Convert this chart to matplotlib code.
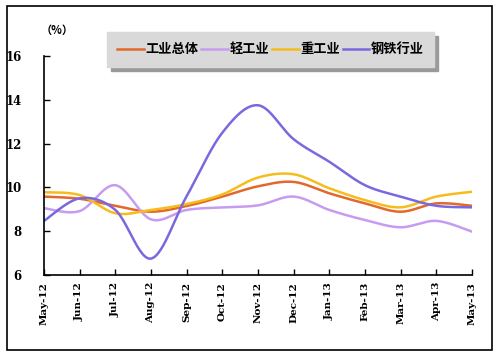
import numpy as np
from matplotlib import pyplot as plt
from matplotlib.patches import Rectangle

months = ['May-12', 'Jun-12', 'Jul-12', 'Aug-12', 'Sep-12', 'Oct-12', 'Nov-12',
          'Dec-12', 'Jan-13', 'Feb-13', 'Mar-13', 'Apr-13', 'May-13']

industry_total = [9.58, 9.48, 9.16, 8.89, 9.15, 9.58, 10.05, 10.25, 9.73, 9.27, 8.89, 9.27, 9.16]
light_industry = [9.05, 8.92, 10.1, 8.54, 8.97, 9.09, 9.18, 9.58, 8.97, 8.51, 8.18, 8.47, 7.98]
heavy_industry = [9.78, 9.65, 8.82, 8.97, 9.24, 9.68, 10.45, 10.6, 9.96, 9.42, 9.09, 9.58, 9.8]
steel_industry = [8.47, 9.5, 8.97, 6.75, 9.6, 12.5, 13.75, 12.2, 11.17, 10.1, 9.58, 9.16, 9.09]

series = [
    ('工业总体', industry_total, '#E2692C'),
    ('轻工业', light_industry, '#C79CF0'),
    ('重工业', heavy_industry, '#F6BC1E'),
    ('钢铁行业', steel_industry, '#7A69DE'),
]


def smooth(y, n=30):
    """Excel-like smoothed line through the points (Catmull-Rom bezier)."""
    y = np.asarray(y, dtype=float)
    x = np.arange(len(y), dtype=float)
    px = np.concatenate([[x[0]], x, [x[-1]]])
    py = np.concatenate([[y[0]], y, [y[-1]]])
    xs, ys = [], []
    t = np.linspace(0, 1, n)
    for i in range(1, len(px) - 2):
        x0, x1, x2, x3 = px[i - 1:i + 3]
        y0, y1, y2, y3 = py[i - 1:i + 3]
        c1x, c1y = x1 + (x2 - x0) / 6, y1 + (y2 - y0) / 6
        c2x, c2y = x2 - (x3 - x1) / 6, y2 - (y3 - y1) / 6
        bx = (1 - t) ** 3 * x1 + 3 * (1 - t) ** 2 * t * c1x + 3 * (1 - t) * t ** 2 * c2x + t ** 3 * x2
        by = (1 - t) ** 3 * y1 + 3 * (1 - t) ** 2 * t * c1y + 3 * (1 - t) * t ** 2 * c2y + t ** 3 * y2
        xs.extend(bx)
        ys.extend(by)
    return np.array(xs), np.array(ys)


plt.rcParams['font.family'] = ['Noto Sans CJK SC', 'DejaVu Sans']

fig = plt.figure(figsize=(5.02, 3.58), dpi=100)
fig.patches.append(Rectangle((7 / 502, 1 - 350 / 358), 485 / 502, 344 / 358,
                             transform=fig.transFigure, fill=False,
                             edgecolor='black', linewidth=1.2))

ax = fig.add_axes([44 / 502, 1 - 275 / 358, 428 / 502, 219 / 358])

lines = []
for name, vals, color in series:
    sx, sy = smooth(vals)
    ln, = ax.plot(sx, sy, color=color, linewidth=1.8, label=name)
    lines.append(ln)

ax.set_xlim(0, 12)
ax.set_ylim(6, 16)
ax.set_yticks([6, 8, 10, 12, 14, 16])
ax.set_xticks(range(len(months)))
ax.set_xticklabels(months, rotation=90, fontsize=7.5, fontweight='bold',
                   family='DejaVu Serif')
for lab in ax.get_yticklabels():
    lab.set_fontweight('bold')
    lab.set_family('DejaVu Serif')
    lab.set_fontsize(8.5)
ax.tick_params(axis='both', direction='in', length=4, width=1)
ax.tick_params(axis='y', pad=16)
ax.tick_params(axis='x', pad=5)
ax.spines['top'].set_visible(False)
ax.spines['right'].set_visible(False)
ax.spines['left'].set_linewidth(1.2)
ax.spines['bottom'].set_linewidth(1.2)

fig.text(41 / 502, 1 - 30 / 358, '（%）', fontsize=8, fontweight='bold',
         va='center', ha='left')

leg = ax.legend(handles=lines, loc='upper left', bbox_to_anchor=(0.147, 1.110),
                ncol=4, frameon=True, fancybox=False,
                shadow={'ox': 3, 'oy': -3, 'color': '#9A9A9A', 'alpha': 1},
                prop={'weight': 'bold', 'size': 9.5}, handlelength=2.0,
                handletextpad=0.1, columnspacing=0.25, borderpad=0.8,
                borderaxespad=0)
leg.get_frame().set_facecolor('#D9D9D9')
leg.get_frame().set_edgecolor('#D9D9D9')

fig.savefig('out.png', dpi=100)
